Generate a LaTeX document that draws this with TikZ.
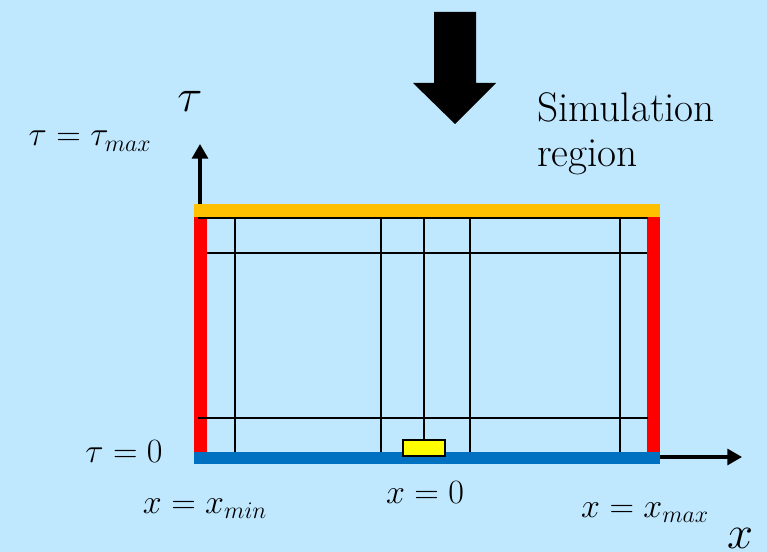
\RequirePackage{fix-cm}
\documentclass[tikz,border=0pt]{standalone}
\usetikzlibrary{arrows.meta}
\definecolor{bgc}{HTML}{BFE8FF}
\definecolor{topc}{HTML}{FFC000}
\definecolor{sidec}{HTML}{FF0000}
\definecolor{basec}{HTML}{0070C0}
\definecolor{srcc}{HTML}{FFFF00}
\tikzset{
  mlbl/.style={anchor=base, inner sep=0pt, font=\fontsize{25.5}{30}\selectfont},
  axlbl/.style={anchor=base, inner sep=0pt, font=\fontsize{35}{42}\selectfont},
  txtlbl/.style={anchor=base west, inner sep=0pt, font=\fontsize{31}{37}\selectfont},
  gridln/.style={black, line width=0.9pt},
  axis/.style={-{Triangle[length=11pt, width=12pt]}, line width=2.3pt},
  srcbox/.style={draw=black, fill=srcc, line width=1.6pt, inner sep=0pt, minimum width=31pt, minimum height=12.5pt},
}
\begin{document}
\begin{tikzpicture}[x=0.75pt, y=-0.75pt]
  % backdrop
  \fill[bgc] (0,0) rectangle (767,552);
  \useasboundingbox (0,0) rectangle (767,552);
  % boundaries of the region
  \fill[sidec] (194,217) rectangle (207,452);
  \fill[sidec] (647,217) rectangle (660,452);
  \fill[topc] (194,204) rectangle (660,217);
  \fill[basec] (194,452) rectangle (660,464);
  % mesh
  \foreach \xx in {235,381,470,620} \draw[gridln] (\xx,218) -- (\xx,452);
  \foreach \yy in {218,418} \draw[gridln] (198,\yy) -- (648,\yy);
  \draw[gridln] (207,253) -- (647,253);
  % source at x=0
  \node[srcbox] (src) at (424,448) {};
  \coordinate (srctop) at (424,218);
  \draw[gridln] (srctop) -- (src.north);
  % axes
  \coordinate (ytail) at (200,204);
  \coordinate (ytip) at (200,144);
  \draw[axis] (ytail) -- (ytip);
  \coordinate (xtail) at (660,457);
  \coordinate (xtip) at (742,457);
  \draw[axis] (xtail) -- (xtip);
  % big arrow
  \fill[black] (434,12) -- (476,12) -- (476,83) -- (496,83) -- (455,124) -- (413,83) -- (434,83) -- cycle;
  % labels
  \node[axlbl] (taulbl) at (190,112) {$\tau$};
  \node[mlbl] (taumax) at (90,146) {$\tau=\tau_{max}$};
  \node[mlbl] (tauzero) at (124,462) {$\tau=0$};
  \node[mlbl] (xmin) at (205,513) {$x=x_{min}$};
  \node[mlbl] (xzero) at (425,503) {$x=0$};
  \node[mlbl] (xmax) at (645,517) {$x=x_{max}$};
  \node[axlbl] (xlbl) at (740,548) {$x$};
  \node[txtlbl] (sim) at (537,122) {Simulation};
  \node[txtlbl] (reg) at (537,167) {region};
\end{tikzpicture}
\end{document}
